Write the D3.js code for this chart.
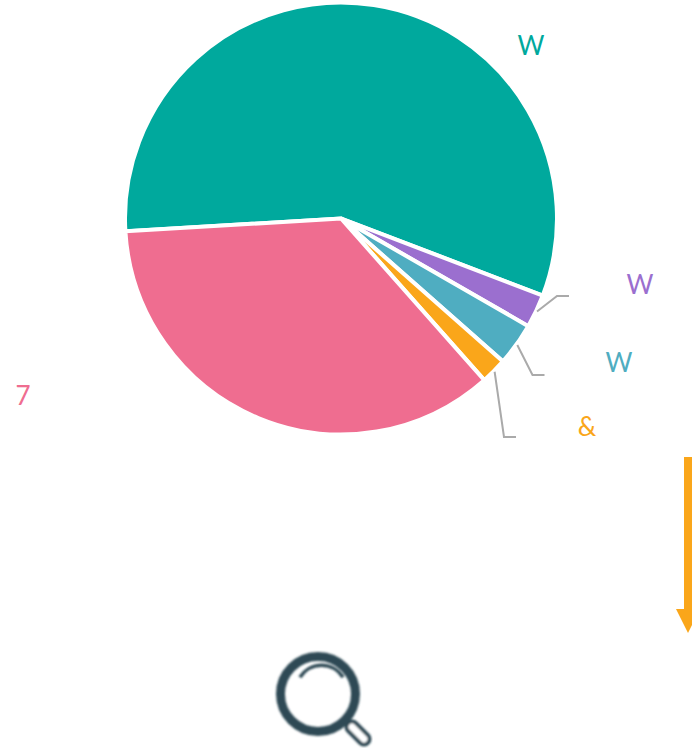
<!DOCTYPE html>
<html>
<head>
  <meta charset="UTF-8" />
  <title>Pie</title>
  <style>
    html, body { margin: 0; padding: 0; background: #fff; overflow: hidden; }
    svg { display: block; }
    text { font-family: Lato, sans-serif; font-weight: 400; font-size: 26px; }
  </style>
</head>
<body>
  <svg id="chart" width="692" height="751"></svg>
  <script src="https://d3js.org/d3.v7.min.js"></script>
  <script>
    // values, in drawing order (clockwise from the teal slice)
    const labels = ["W", "W", "W", "&", "7"];
    const values = [56.75, 2.5, 3.2, 1.95, 35.6];
    const colors = ["#00a99d", "#9b6fcf", "#4fadc1", "#faa61a", "#ef6d90"];

    // label placement, same order as above
    const labelX = [531, 640, 619, 587, 23];
    const labelY = [55, 294, 372, 436, 405];
    // leader elbow, null = no leader
    const elbowX = [null, 557, 532.5, 504, null];
    const elbowY = [null, 296, 375, 437, null];

    const svg = d3.select("#chart");
    const cx = 341, cy = 218.5, radius = 216;
    const startDeg = -93.4;

    const pie = d3.pie().sort(null)
      .startAngle(startDeg * Math.PI / 180)
      .endAngle((startDeg + 360) * Math.PI / 180);
    const arc = d3.arc().innerRadius(0).outerRadius(radius);
    const arcs = pie(values);

    const g = svg.append("g").attr("transform", `translate(${cx},${cy})`);

    g.selectAll("path.slice").data(arcs).enter().append("path")
      .attr("class", "slice")
      .attr("d", arc)
      .attr("fill", (d, i) => colors[i])
      .attr("stroke", "#fff")
      .attr("stroke-width", 4)
      .attr("stroke-linejoin", "miter");

    // leader lines start just outside the rim at the middle of the slice
    const rim = a => {
      const m = (a.startAngle + a.endAngle) / 2;
      return [cx + 217 * Math.sin(m), cy - 217 * Math.cos(m)];
    };
    const line = d3.line();
    arcs.forEach((a, i) => {
      if (elbowX[i] === null) return;
      svg.append("path")
        .attr("d", line([rim(a), [elbowX[i], elbowY[i]], [elbowX[i] + 12, elbowY[i]]]))
        .attr("fill", "none")
        .attr("stroke", "#aaa")
        .attr("stroke-width", 2);
    });

    svg.selectAll("text.lbl").data(labels).enter().append("text")
      .attr("class", "lbl")
      .attr("x", (d, i) => labelX[i])
      .attr("y", (d, i) => labelY[i])
      .attr("text-anchor", "middle")
      .attr("fill", (d, i) => colors[i])
      .text(d => d);

    // orange arrow on the right edge, runs off the page
    svg.append("path")
      .attr("d", "M684,457H692V609H700L688,633L676,609H684Z")
      .attr("fill", "#faa61a");

    // magnifier icon, soft like the original bitmap
    const defs = svg.append("defs");
    defs.append("filter").attr("id", "soft")
      .append("feGaussianBlur").attr("stdDeviation", 0.9);

    const icon = svg.append("g")
      .attr("filter", "url(#soft)")
      .attr("fill", "none")
      .attr("stroke", "#2d4a55")
      .attr("stroke-linecap", "round");

    icon.append("path").attr("d", "M352,727L364,739").attr("stroke-width", 15);
    icon.append("path").attr("d", "M352,727L364,739").attr("stroke-width", 7).attr("stroke", "#fff");
    icon.append("circle").attr("cx", 318).attr("cy", 694).attr("r", 37.5).attr("stroke-width", 9);
    icon.append("path")
      .attr("d", d3.arc().innerRadius(25.3).outerRadius(25.3)
        .startAngle(-1.02).endAngle(1.02)())
      .attr("transform", "translate(321.5,690.5)")
      .attr("stroke-width", 3.5);
  </script>
</body>
</html>
